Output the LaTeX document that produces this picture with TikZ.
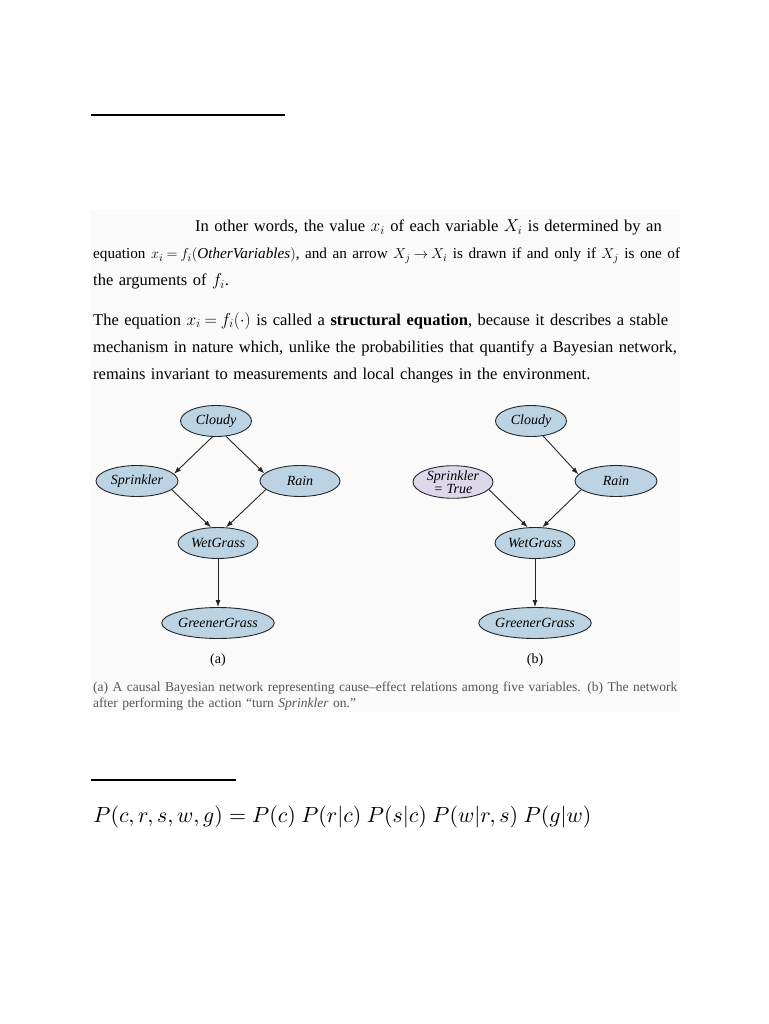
\documentclass[tikz,border=0pt]{standalone}
\usepackage{fontspec}
\setmainfont{Liberation Serif}
\usetikzlibrary{arrows.meta,shapes.geometric}

\definecolor{nodeblue}{HTML}{BBD3E3}
\definecolor{dolilac}{HTML}{DCD8EA}
\definecolor{capgray}{HTML}{555555}

\begin{document}
\begin{tikzpicture}[
  x=1pt, y=-1pt,
  var/.style={draw=black!85, ellipse, fill=nodeblue, line width=0.9pt,
    inner sep=0pt, minimum height=31pt,
    font=\fontsize{14}{14}\selectfont\itshape},
  dovar/.style={var, fill=dolilac, align=center,
    font=\fontsize{14}{11.5}\selectfont\itshape},
  arrow/.style={-{Latex[length=7pt,width=5pt]}, line width=0.9pt, black!85},
  body/.style={anchor=base west, text width=640pt, align=left, inner sep=0pt,
    font=\fontsize{16.5}{27}\selectfont,
    execute at begin node={\thickmuskip=4mu\relax}},
  caption/.style={anchor=base west, text width=640pt, align=left, inner sep=0pt,
    text=capgray, font=\fontsize{13.5}{16}\selectfont},
  rule/.style={line width=2pt}
]
\useasboundingbox (0,0) rectangle (768,1024);
\fill[black!2] (90,210) rectangle (680,712);

% rules
\draw[rule] (91,115) -- (285,115);
\draw[rule] (91,780) -- (236,780);

% text
\node[body] (par1) at (93,232) {\hspace*{102pt}In other words, the value $x_i$ of each variable $X_i$ is determined by an\\
{\fontsize{15.2}{27}\selectfont equation $x_i = f_i(\textit{OtherVariables})$, and an arrow $X_j \rightarrow X_i$ is drawn if and only if $X_j$ is one of}\\
the arguments of $f_i$.};
\node[body] (par2) at (93,325) {The equation $x_i = f_i(\cdot)$ is called a \textbf{structural equation}, because it describes a stable\\
mechanism in nature which, unlike the probabilities that quantify a Bayesian network,\\
remains invariant to measurements and local changes in the environment.};

% network (a)
\node[var, minimum width=71pt] (cloudyA) at (216,421) {Cloudy};
\node[var, minimum width=82pt] (sprinklerA) at (137,481) {Sprinkler};
\node[var, minimum width=80pt] (rainA) at (300,481) {Rain};
\node[var, minimum width=80pt] (wetA) at (218,543) {WetGrass};
\node[var, minimum width=103pt] (greenA) at (218,623) {GreenerGrass};

\draw[arrow] (cloudyA.257) -- (sprinklerA.11);
\draw[arrow] (cloudyA.303) -- (rainA.168);
\draw[arrow] (sprinklerA.346) -- (wetA.114);
\draw[arrow] (rainA.194) -- (wetA.63);
\draw[arrow] (wetA) -- (greenA);

% network (b)
\node[var, minimum width=71pt] (cloudyB) at (531,421) {Cloudy};
\node[dovar, minimum width=80pt] (sprinklerB) at (453,482) {Sprinkler\\= True};
\node[var, minimum width=82pt] (rainB) at (616,481) {Rain};
\node[var, minimum width=80pt] (wetB) at (535,543) {WetGrass};
\node[var, minimum width=104pt] (greenB) at (535,623) {GreenerGrass};

\draw[arrow] (cloudyB.309) -- (rainB.170);
\draw[arrow] (sprinklerB.348) -- (wetB.115);
\draw[arrow] (rainB.194) -- (wetB.65);
\draw[arrow] (wetB) -- (greenB);

\node[font=\fontsize{14}{14}\selectfont] (labelA) at (218,660) {(a)};
\node[font=\fontsize{14}{14}\selectfont] (labelB) at (535,660) {(b)};

\node[caption] (cap) at (93,691) {(a) A causal Bayesian network representing cause--effect relations among five variables. (b) The network\\
after performing the action ``turn \textit{Sprinkler} on.''};

% factorisation
\node[anchor=base west, inner sep=0pt, scale=2, font=\fontsize{11}{13}\selectfont] (joint) at (93,822)
  {$P(c,r,s,w,g) = P(c)\ P(r|c)\ P(s|c)\ P(w|r,s)\ P(g|w)$};
\end{tikzpicture}
\end{document}
